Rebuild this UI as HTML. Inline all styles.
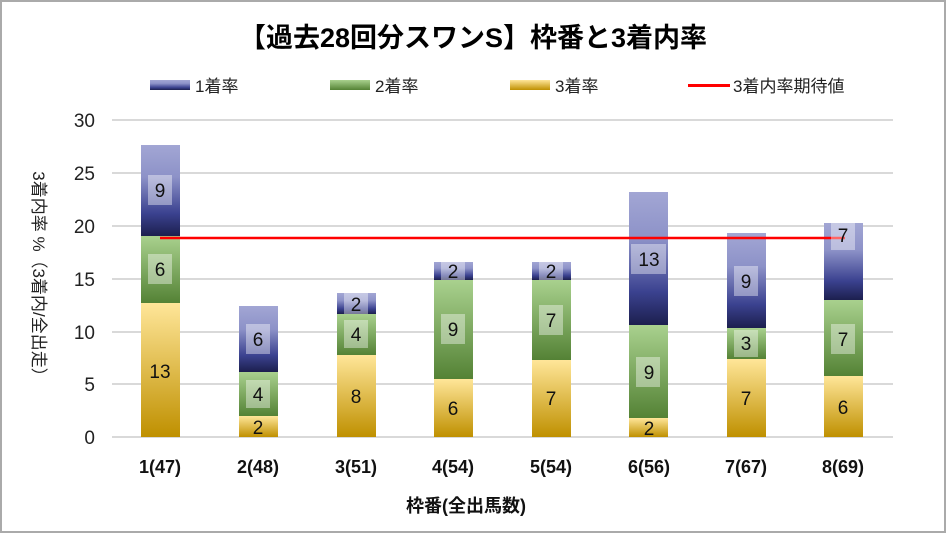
<!DOCTYPE html>
<html><head><meta charset="utf-8"><style>
html,body{margin:0;padding:0;background:#fff}
svg{display:block;font-family:"Liberation Sans","Noto Sans CJK JP",sans-serif}
</style></head><body>
<svg width="947" height="534" viewBox="0 0 947 534">
<defs>
<linearGradient id="gb" x1="0" y1="0" x2="0" y2="1"><stop offset="0" stop-color="#a2a6d4"/><stop offset="0.35" stop-color="#8d92c8"/><stop offset="0.75" stop-color="#3b4290"/><stop offset="1" stop-color="#1c1f4e"/></linearGradient>
<linearGradient id="gg" x1="0" y1="0" x2="0" y2="1"><stop offset="0" stop-color="#a9d18e"/><stop offset="1" stop-color="#548235"/></linearGradient>
<linearGradient id="gy" x1="0" y1="0" x2="0" y2="1"><stop offset="0" stop-color="#ffe699"/><stop offset="1" stop-color="#bf9000"/></linearGradient>
</defs>
<rect x="1" y="1" width="944" height="531" fill="#fff" stroke="#aaa" stroke-width="2"/>
<text x="473" y="47" text-anchor="middle" font-size="27" font-weight="bold" fill="#000">【過去28回分スワンS】枠番と3着内率</text>
<g font-size="17" fill="#222">
<rect x="150" y="80" width="40" height="10" fill="url(#gb)"/><text x="195" y="92">1着率</text>
<rect x="330" y="80" width="40" height="10" fill="url(#gg)"/><text x="375" y="92">2着率</text>
<rect x="510" y="80" width="40" height="10" fill="url(#gy)"/><text x="555" y="92">3着率</text>
<rect x="688" y="84" width="42" height="3" fill="#f00"/><text x="733" y="92">3着内率期待値</text>
</g>
<g stroke="#d9d9d9" stroke-width="2">
<line x1="112" y1="120" x2="893" y2="120"/><line x1="112" y1="173" x2="893" y2="173"/><line x1="112" y1="226" x2="893" y2="226"/><line x1="112" y1="279" x2="893" y2="279"/><line x1="112" y1="332" x2="893" y2="332"/><line x1="112" y1="384" x2="893" y2="384"/><line x1="112" y1="437" x2="893" y2="437"/>
</g>
<g font-size="19" fill="#222" text-anchor="end">
<text x="95" y="127">30</text><text x="95" y="180">25</text><text x="95" y="233">20</text><text x="95" y="286">15</text><text x="95" y="339">10</text><text x="95" y="391">5</text><text x="95" y="444">0</text>
</g>
<text transform="translate(33,278) rotate(90)" text-anchor="middle" font-size="17" fill="#222">3着内率 %（3着内/全出走）</text>
<g>
<rect x="141" y="303" width="39" height="134" fill="url(#gy)"/><rect x="141" y="236" width="39" height="67" fill="url(#gg)"/><rect x="141" y="145" width="39" height="91" fill="url(#gb)"/>
<rect x="239" y="416" width="39" height="21" fill="url(#gy)"/><rect x="239" y="372" width="39" height="44" fill="url(#gg)"/><rect x="239" y="306" width="39" height="66" fill="url(#gb)"/>
<rect x="337" y="355" width="39" height="82" fill="url(#gy)"/><rect x="337" y="314" width="39" height="41" fill="url(#gg)"/><rect x="337" y="293" width="39" height="21" fill="url(#gb)"/>
<rect x="434" y="379" width="39" height="58" fill="url(#gy)"/><rect x="434" y="280" width="39" height="99" fill="url(#gg)"/><rect x="434" y="262" width="39" height="18" fill="url(#gb)"/>
<rect x="532" y="360" width="39" height="77" fill="url(#gy)"/><rect x="532" y="280" width="39" height="80" fill="url(#gg)"/><rect x="532" y="262" width="39" height="18" fill="url(#gb)"/>
<rect x="629" y="418" width="39" height="19" fill="url(#gy)"/><rect x="629" y="325" width="39" height="93" fill="url(#gg)"/><rect x="629" y="192" width="39" height="133" fill="url(#gb)"/>
<rect x="727" y="359" width="39" height="78" fill="url(#gy)"/><rect x="727" y="328" width="39" height="31" fill="url(#gg)"/><rect x="727" y="233" width="39" height="95" fill="url(#gb)"/>
<rect x="824" y="376" width="39" height="61" fill="url(#gy)"/><rect x="824" y="300" width="39" height="76" fill="url(#gg)"/><rect x="824" y="223" width="39" height="77" fill="url(#gb)"/>
</g>
<line x1="160" y1="238" x2="845" y2="238" stroke="#f00" stroke-width="2.5"/>
<g fill="#fff" fill-opacity="0.4">
<rect x="148" y="175" width="24" height="30"/><rect x="148" y="254" width="24" height="30"/>
<rect x="246" y="324" width="24" height="30"/><rect x="246" y="380" width="24" height="28"/>
<rect x="344" y="292" width="24" height="22"/><rect x="344" y="320" width="24" height="28"/>
<rect x="441" y="262" width="24" height="18"/><rect x="441" y="314" width="24" height="30"/>
<rect x="539" y="262" width="24" height="18"/><rect x="539" y="305" width="24" height="30"/>
<rect x="631" y="244" width="35" height="30"/><rect x="636" y="357" width="24" height="30"/>
<rect x="734" y="266" width="24" height="30"/><rect x="734" y="330" width="24" height="27"/>
<rect x="831" y="220" width="24" height="30"/><rect x="831" y="324" width="24" height="30"/>
</g>
<g font-size="19" fill="#111" text-anchor="middle">
<text x="160" y="197">9</text><text x="160" y="276">6</text><text x="160" y="378">13</text>
<text x="258" y="346">6</text><text x="258" y="401">4</text><text x="258" y="434">2</text>
<text x="356" y="311">2</text><text x="356" y="341">4</text><text x="356" y="403">8</text>
<text x="453" y="278">2</text><text x="453" y="336">9</text><text x="453" y="415">6</text>
<text x="551" y="278">2</text><text x="551" y="327">7</text><text x="551" y="405">7</text>
<text x="649" y="266">13</text><text x="649" y="379">9</text><text x="649" y="435">2</text>
<text x="746" y="288">9</text><text x="746" y="350">3</text><text x="746" y="405">7</text>
<text x="843" y="242">7</text><text x="843" y="346">7</text><text x="843" y="414">6</text>
</g>
<g font-size="18" font-weight="bold" fill="#111" text-anchor="middle">
<text x="160" y="473">1(47)</text><text x="258" y="473">2(48)</text><text x="356" y="473">3(51)</text><text x="453" y="473">4(54)</text><text x="551" y="473">5(54)</text><text x="649" y="473">6(56)</text><text x="746" y="473">7(67)</text><text x="843" y="473">8(69)</text>
</g>
<text x="466" y="512" text-anchor="middle" font-size="18" font-weight="bold" fill="#111">枠番(全出馬数)</text>
</svg>
</body></html>
